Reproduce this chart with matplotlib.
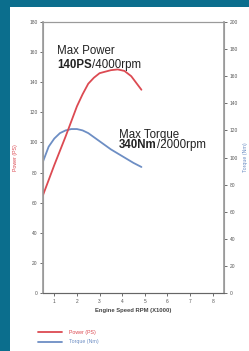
import numpy as np
import matplotlib; matplotlib.use("Agg")
import matplotlib.pyplot as plt
from matplotlib.patches import Rectangle

plt.rcParams['font.family'] = ['Liberation Sans', 'DejaVu Sans']

# engine speed (x1000 rpm) and curve values
rpm_power = [0.5, 1.0, 1.5, 1.75, 2.0, 2.25, 2.5, 2.75, 3.0, 3.5, 3.8, 4.1, 4.4, 4.6, 4.85]
power_ps = [65, 85, 104, 114, 124, 132, 139, 143, 146, 148, 148.5, 147.5, 144, 140, 135]
rpm_torque = [0.5, 0.75, 1.0, 1.25, 1.5, 1.75, 2.0, 2.25, 2.5, 3.0, 3.5, 4.0, 4.5, 4.85]
torque_nm = [97, 108, 114, 118, 120, 121, 121, 120, 118, 112, 106, 101, 96, 93]
x_ticks = [1, 2, 3, 4, 5, 6, 7, 8]
left_ticks = [0, 20, 40, 60, 80, 100, 120, 140, 160, 180]
right_ticks = [0, 20, 40, 60, 80, 100, 120, 140, 160, 180, 200]

RED = "#dc4a52"; BLUE = "#6d8ec4"; TEAL = "#0b6e8d"; GREY = "#9a9a9a"

fig = plt.figure(figsize=(2.49, 3.51), dpi=100, facecolor=TEAL)
fig.patches.append(Rectangle((10/249, 0), 1, 1 - 7/351, transform=fig.transFigure,
                             facecolor="white", edgecolor="none", zorder=-5))

ax = fig.add_axes([43/249, 1 - 293/351, 181/249, 271/351])
ax2 = ax.twinx()
ax.set_zorder(ax2.get_zorder() + 1); ax.patch.set_visible(False)
ax2.patch.set_visible(False)

lp, = ax.plot(rpm_power, power_ps, color=RED, lw=1.3, solid_capstyle="round")
lt, = ax2.plot(rpm_torque, torque_nm, color=BLUE, lw=1.3, solid_capstyle="round")

ax.set_xlim(0.5, 8.5); ax.set_ylim(0, 180); ax2.set_ylim(0, 200)
ax.set_xticks(x_ticks); ax.set_yticks(left_ticks); ax2.set_yticks(right_ticks)
for a in (ax, ax2):
    a.tick_params(labelsize=3.5, colors="#555", length=2, width=0.6, pad=2)
    for s in a.spines.values():
        s.set_color(GREY); s.set_linewidth(0.8)
ax.spines["left"].set_linewidth(1.2); ax2.spines["right"].set_linewidth(1.2)
ax.spines["bottom"].set_color("#666")

ax.set_xlabel("Engine Speed RPM (X1000)", fontsize=4.2, fontweight="bold", color="#444", labelpad=3)
ax.set_ylabel("Power (PS)", fontsize=3.8, color=RED, labelpad=8)
ax2.set_ylabel("Torque (Nm)", fontsize=3.8, color=BLUE, labelpad=4)

# annotations
ax.text(1.12, 159, "Max Power", fontsize=8.3, color="#222", va="baseline")
t1 = ax.text(1.12, 149.5, "140PS", fontsize=8.3, fontweight="bold", color="#222", va="baseline")
ax.annotate("/4000rpm", xy=(1, 0), xycoords=t1, fontsize=8.3, color="#222", va="bottom")
ax.text(3.86, 103, "Max Torque", fontsize=8.3, color="#222", va="baseline")
t2 = ax.text(3.86, 96, "340Nm", fontsize=8.3, fontweight="bold", color="#222", va="baseline")
ax.annotate("/2000rpm", xy=(1, 0), xycoords=t2, fontsize=8.3, color="#222", va="bottom")

leg = fig.legend([lp, lt], ["Power (PS)", "Torque (Nm)"], loc="upper left",
                 bbox_to_anchor=(33/249, 1 - 325/351), frameon=False, fontsize=3.8,
                 labelcolor="linecolor", handlelength=4.5, handletextpad=1.4, labelspacing=0.9)

fig.savefig("out.png", dpi=100, facecolor=TEAL)
